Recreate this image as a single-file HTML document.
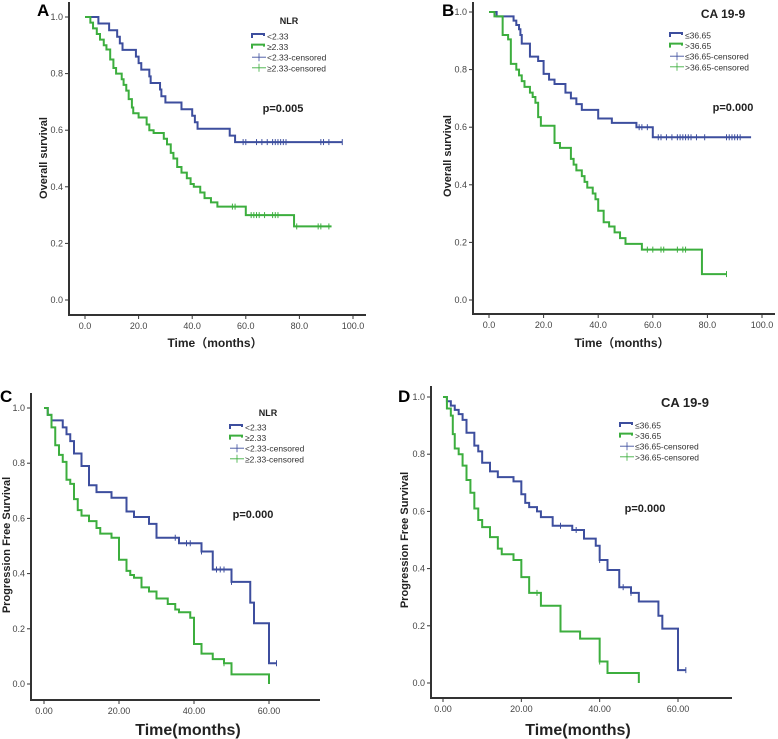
<!DOCTYPE html>
<html><head><meta charset="utf-8"><style>
html,body{margin:0;padding:0;background:#fff}
svg{display:block}
text{font-family:"Liberation Sans","Noto Sans CJK SC",sans-serif}
</style></head><body>
<svg id="fig" width="778" height="739" viewBox="0 0 778 739" xmlns="http://www.w3.org/2000/svg"></svg>
<script>
// ---- Panel A data (OS by NLR)
const aBlueT=[5,9,12,13,14,19,20,21,24,24.5,28,28.5,30,36,40,41,42,54,56];
const aBlueS=[0.977,0.953,0.93,0.907,0.884,0.86,0.837,0.814,0.79,0.767,0.744,0.72,0.698,0.674,0.651,0.628,0.605,0.581,0.558];
const aBlueC=[59,60,64,66,68,70,71,72,73,74,75,88,89,91,96];
const aBlueEnd=96;
const aGreenT=[2,3,4.4,5.6,7,8,9.4,10.6,11.6,13.7,14.4,15.4,16.3,17.5,18,20,23,24,25.6,29.4,30.6,32,33,34.4,36,38,39.4,40.6,43,44.6,47,49.4,60,78];
const aGreenS=[0.98,0.96,0.94,0.92,0.9,0.885,0.85,0.82,0.80,0.78,0.76,0.74,0.71,0.68,0.66,0.645,0.62,0.60,0.59,0.57,0.55,0.52,0.50,0.47,0.45,0.43,0.41,0.40,0.38,0.36,0.345,0.33,0.30,0.26];
const aGreenC=[55,56,62,63,64,65,67,70,71,72,79,87,88,91];
const aGreenEnd=92;
// ---- Panel B data (OS by CA19-9)
const bBlueT=[2.8,9,10,11,11.5,12,15,18,20,22,24,28,30,32,34,40,45,54,60];
const bBlueS=[0.985,0.97,0.955,0.94,0.92,0.89,0.845,0.83,0.785,0.765,0.75,0.72,0.70,0.68,0.66,0.63,0.615,0.60,0.565];
const bBlueC=[55,56,58,62,63,65,67,69,70,71,72,73,74,76,79,87,88,89,90,91,92];
const bBlueEnd=96;
const bGreenT=[2,5,7,8,10,11,12,13,15,16,17,18,19,24,26,30,31,32,34,35,36,38,39,40,42,44,46,48,50,56,78];
const bGreenS=[0.985,0.92,0.905,0.82,0.80,0.78,0.76,0.74,0.72,0.705,0.685,0.635,0.605,0.545,0.528,0.49,0.47,0.45,0.43,0.41,0.39,0.37,0.35,0.31,0.27,0.255,0.235,0.215,0.195,0.175,0.09];
const bGreenC=[58,60,63,64,69,71,72,87];
const bGreenEnd=87;
// ---- Panel C data (PFS by NLR)
const cBlueT=[1,2,5,6,7,8,10,12,14,18,22,24,28,30,36,42,45,50,55,56,60];
const cBlueS=[0.975,0.955,0.93,0.905,0.88,0.835,0.79,0.72,0.695,0.675,0.625,0.605,0.58,0.53,0.51,0.48,0.415,0.37,0.295,0.22,0.075];
const cBlueC=[35,38,39,42,46,47,48,50,62];
const cBlueEnd=62;
const cGreenT=[1,2,3,4,5,6,7,8,9,10,12,14,15,18,20,22,23,24,26,28,30,33,35,36,39,40,42,45,48,50,60];
const cGreenS=[0.975,0.93,0.865,0.83,0.805,0.74,0.725,0.67,0.63,0.61,0.59,0.565,0.545,0.53,0.45,0.41,0.395,0.385,0.35,0.335,0.31,0.29,0.27,0.26,0.24,0.145,0.11,0.09,0.075,0.035,0.0];
const cGreenC=[48];
const cGreenEnd=60;
// ---- Panel D data (PFS by CA19-9)
const dBlueT=[1,2,3,4,5,6,8,9,10,12,14,18,20,21,22,24,25,28,33,36,39,40,42,45,48,50,55,56,60];
const dBlueS=[0.985,0.97,0.955,0.94,0.92,0.875,0.83,0.81,0.77,0.74,0.72,0.705,0.66,0.63,0.615,0.60,0.58,0.55,0.535,0.505,0.48,0.43,0.395,0.335,0.315,0.285,0.235,0.19,0.045];
const dBlueC=[30,34,40,46,48,62];
const dBlueEnd=62;
const dGreenT=[1,2,2.5,3,4,5,6,7,8,9,10,12,14,15,18,20,22,25,30,35,40,42,50];
const dGreenS=[0.96,0.935,0.87,0.82,0.80,0.76,0.71,0.665,0.61,0.57,0.545,0.51,0.47,0.45,0.43,0.37,0.315,0.27,0.18,0.155,0.075,0.035,0.0];
const dGreenC=[24,40];
const dGreenEnd=50;

const yTicks=["0.0","0.2","0.4","0.6","0.8","1.0"];
const yTickVals=[0,0.2,0.4,0.6,0.8,1.0];
const osXTicks=["0.0","20.0","40.0","60.0","80.0","100.0"];
const osXTickVals=[0,20,40,60,80,100];
const pfsXTicks=["0.00","20.00","40.00","60.00"];
const pfsXTickVals=[0,20,40,60];

const NS="http://www.w3.org/2000/svg";
const svg=document.getElementById('fig');
const BLUE="#3d4e9e", GREEN="#3cae3e";
function mk(tag,attrs,parent){const e=document.createElementNS(NS,tag);for(const k in attrs)e.setAttribute(k,attrs[k]);(parent||svg).appendChild(e);return e;}
function txt(s,x,y,size,opt,parent){const e=mk('text',Object.assign({x:x,y:y,'font-size':size,fill:'#222'},opt||{}),parent);e.textContent=s;return e;}

function panel(p){
  const g=mk('g',{});
  
  
  const xs=v=>p.x0+(p.x1-p.x0)*(v-p.xa)/(p.xb-p.xa);
  const ys=v=>p.y0+(p.y1-p.y0)*v;
  const ax=mk('path',{d:`M${p.axL},${p.axT}V${p.axB}H${p.axR}`,stroke:'#333','stroke-width':2,fill:'none'},g);
  
  
  yTickVals.forEach((v,i)=>{
    mk('line',{x1:p.axL-4,x2:p.axL,y1:ys(v),y2:ys(v),stroke:'#333','stroke-width':1},g);
    const t=txt(yTicks[i],p.axL-6,ys(v)+3,9,{'text-anchor':'end',fill:'#444'},g);
    
    
  });
  p.xTickVals.forEach((v,i)=>{
    mk('line',{x1:xs(v),x2:xs(v),y1:p.axB,y2:p.axB+4,stroke:'#333','stroke-width':1},g);
    const t=txt(p.xTicks[i],xs(v),p.axB+14,9,{'text-anchor':'middle',fill:'#444'},g);
    
    
  });
  p.series.forEach(s=>{
    let d=`M${xs(0)},${ys(1)}`;
    s.t.forEach((t,i)=>{d+=`H${xs(t)}V${ys(s.s[i])}`;});
    d+=`H${xs(s.end)}`;
    const path=mk('path',{d:d,stroke:s.color,'stroke-width':2,fill:'none'},g);
    
    
    s.c.forEach(c=>{
      let v=1;s.t.forEach((t,i)=>{if(t<=c)v=s.s[i];});
      const m=mk('line',{x1:xs(c),x2:xs(c),y1:ys(v)-3,y2:ys(v)+3,stroke:s.color,'stroke-width':1},g);
      
      
    });
  });
  const L=txt(p.id,p.lx,p.ly,p.lsize,{'font-weight':'bold',fill:'#000'},g);
  
  
  const yt=txt(p.ytitle,0,0,p.ytSize,{'font-weight':'bold','text-anchor':'middle',transform:`translate(${p.ytx},${p.yty}) rotate(-90)`},g);
  
  
  const xt=txt(p.xtitle,p.xtx,p.xty,p.xtSize,{'font-weight':'bold','text-anchor':'middle'},g);
  
  
  const lt=txt(p.legTitle,p.ltx,p.lty,p.ltSize,{'font-weight':'bold','text-anchor':'middle'},g);
  
  
  p.legend.forEach((e,i)=>{
    const y=p.legY+i*10.6;
    let sym;
    if(i<2) sym=mk('path',{d:`M${p.legX},${y+2}V${y-2}H${p.legX+12}V${y}`,stroke:e.color,'stroke-width':2,fill:'none'},g);
    else sym=mk('path',{d:`M${p.legX},${y}H${p.legX+14}M${p.legX+7},${y-4}V${y+4}`,stroke:e.color,'stroke-width':0.8,fill:'none'},g);
    
    
    const t=txt(e.label,p.legX+15,y+3.5,8.5,{fill:'#333'},g);
    
    
  });
  const pv=txt(p.pval,p.px,p.py,11,{'font-weight':'bold','text-anchor':'middle'},g);
  
  
}

const nlrLeg=[{label:"<2.33",color:BLUE},{label:"≥2.33",color:GREEN},{label:"<2.33-censored",color:BLUE},{label:"≥2.33-censored",color:GREEN}];
const caLeg=[{label:"≤36.65",color:BLUE},{label:">36.65",color:GREEN},{label:"≤36.65-censored",color:BLUE},{label:">36.65-censored",color:GREEN}];

panel({id:"A",x0:85,x1:353,xa:0,xb:100,y0:300,y1:17,axL:69,axT:2,axB:315,axR:366,
  xTicks:osXTicks,xTickVals:osXTickVals,lx:37,ly:16,lsize:17,
  ytitle:"Overall survival",ytx:47,yty:158,ytSize:11,xtitle:"Time（months）",xtx:215,xty:347,xtSize:12,
  legTitle:"NLR",ltx:289,lty:24,ltSize:9,legX:252,legY:36,pval:"p=0.005",px:283,py:112,
  series:[{name:"nlr-low",t:aBlueT,s:aBlueS,c:aBlueC,end:aBlueEnd,color:BLUE},{name:"nlr-high",t:aGreenT,s:aGreenS,c:aGreenC,end:aGreenEnd,color:GREEN}],legend:nlrLeg});
panel({id:"B",x0:489,x1:762,xa:0,xb:100,y0:300,y1:12,axL:473,axT:2,axB:314,axR:775,
  xTicks:osXTicks,xTickVals:osXTickVals,lx:442,ly:16,lsize:17,
  ytitle:"Overall survival",ytx:451,yty:156,ytSize:11,xtitle:"Time（months）",xtx:622,xty:347,xtSize:12,
  legTitle:"CA 19-9",ltx:723,lty:18,ltSize:12,legX:670,legY:35,pval:"p=0.000",px:733,py:111,
  series:[{name:"ca199-low",t:bBlueT,s:bBlueS,c:bBlueC,end:bBlueEnd,color:BLUE},{name:"ca199-high",t:bGreenT,s:bGreenS,c:bGreenC,end:bGreenEnd,color:GREEN}],legend:caLeg});
panel({id:"C",x0:44,x1:269,xa:0,xb:60,y0:684,y1:408,axL:31,axT:393,axB:700,axR:320,
  xTicks:pfsXTicks,xTickVals:pfsXTickVals,lx:0,ly:402,lsize:17,
  ytitle:"Progression Free Survival",ytx:10,yty:545,ytSize:11,xtitle:"Time(months)",xtx:188,xty:735,xtSize:16,
  legTitle:"NLR",ltx:268,lty:416,ltSize:9,legX:230,legY:427,pval:"p=0.000",px:253,py:518,
  series:[{name:"nlr-low",t:cBlueT,s:cBlueS,c:cBlueC,end:cBlueEnd,color:BLUE},{name:"nlr-high",t:cGreenT,s:cGreenS,c:cGreenC,end:cGreenEnd,color:GREEN}],legend:nlrLeg});
panel({id:"D",x0:443,x1:678,xa:0,xb:60,y0:683,y1:397,axL:431,axT:386,axB:698,axR:732,
  xTicks:pfsXTicks,xTickVals:pfsXTickVals,lx:398,ly:402,lsize:17,
  ytitle:"Progression Free Survival",ytx:408,yty:540,ytSize:11,xtitle:"Time(months)",xtx:578,xty:735,xtSize:16,
  legTitle:"CA 19-9",ltx:685,lty:407,ltSize:13,legX:620,legY:425,pval:"p=0.000",px:645,py:512,
  series:[{name:"ca199-low",t:dBlueT,s:dBlueS,c:dBlueC,end:dBlueEnd,color:BLUE},{name:"ca199-high",t:dGreenT,s:dGreenS,c:dGreenC,end:dGreenEnd,color:GREEN}],legend:caLeg});
</script>
</body></html>
